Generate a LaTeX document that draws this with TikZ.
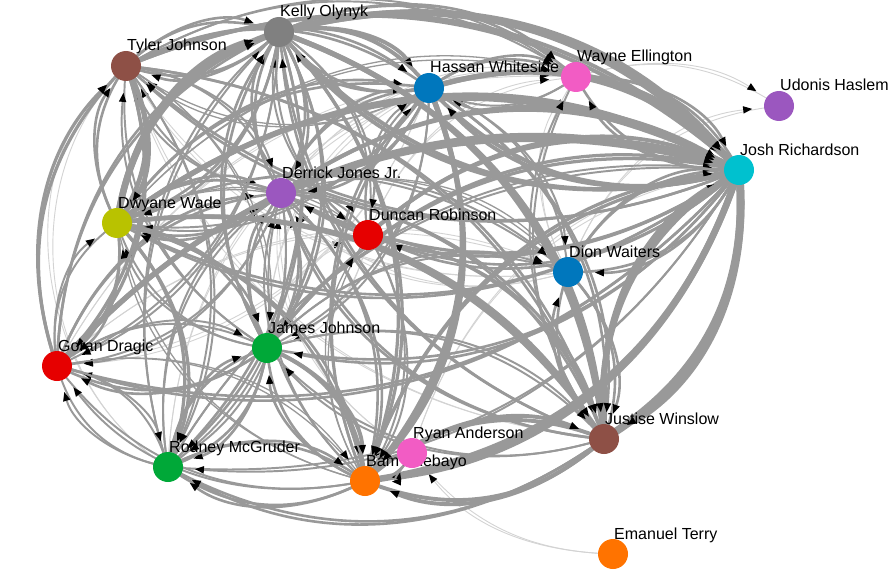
\documentclass[tikz,border=0pt]{standalone}
\usepackage{fontspec}
\setmainfont{Liberation Sans}
\usetikzlibrary{arrows.meta,backgrounds}
\definecolor{edgegray}{HTML}{999999}
\definecolor{lightedge}{HTML}{D3D3D3}
\definecolor{cgray}{HTML}{808080}
\definecolor{cbrown}{HTML}{8E5046}
\definecolor{cblue}{HTML}{0077BD}
\definecolor{cpink}{HTML}{F25CC4}
\definecolor{cpurple}{HTML}{9B57BF}
\definecolor{ccyan}{HTML}{00C1CF}
\definecolor{colive}{HTML}{B9C200}
\definecolor{cred}{HTML}{E60000}
\definecolor{cgreen}{HTML}{00A838}
\definecolor{corange}{HTML}{FF7300}
\begin{document}
\begin{tikzpicture}[x=1pt,y=1pt,
  pl/.style={circle,draw=none,minimum size=30pt,inner sep=0pt},
  lbl/.style={anchor=base west,inner sep=0pt,font=\fontsize{16}{16}\selectfont},
  ln/.style={draw=edgegray},
  lt/.style={draw=lightedge,line width=0.9pt},
  tip/.style={-{Triangle[length=9pt,width=7.5pt,line width=0pt,color=black]},shorten >=27pt}]
\useasboundingbox (0,0) rectangle (888,-575);
\def\bendang{32}
% nodes and labels
\node[pl,fill=cgray]   (KO) at (279,-32) {};
\node[lbl] (KOt) at (280,-17) {Kelly Olynyk};
\node[pl,fill=cbrown]  (TJ) at (126,-66) {};
\node[lbl] (TJt) at (127,-51) {Tyler Johnson};
\node[pl,fill=cblue]   (HW) at (429,-88) {};
\node[lbl] (HWt) at (430,-73) {Hassan Whiteside};
\node[pl,fill=cpink]   (WE) at (576,-77) {};
\node[lbl] (WEt) at (577,-62) {Wayne Ellington};
\node[pl,fill=cpurple] (UH) at (779,-106) {};
\node[lbl] (UHt) at (780,-91) {Udonis Haslem};
\node[pl,fill=ccyan]   (JR) at (739,-170) {};
\node[lbl] (JRt) at (740,-155) {Josh Richardson};
\node[pl,fill=cpurple] (DJ) at (281,-193) {};
\node[lbl] (DJt) at (282,-178) {Derrick Jones Jr.};
\node[pl,fill=colive]  (DW) at (117,-223) {};
\node[lbl] (DWt) at (118,-208) {Dwyane Wade};
\node[pl,fill=cred]    (DR) at (368,-235) {};
\node[lbl] (DRt) at (369,-220) {Duncan Robinson};
\node[pl,fill=cblue]   (DI) at (568,-272) {};
\node[lbl] (DIt) at (569,-257) {Dion Waiters};
\node[pl,fill=cgreen]  (JJ) at (267,-348) {};
\node[lbl] (JJt) at (268,-333) {James Johnson};
\node[pl,fill=cred]    (GD) at (57,-366) {};
\node[lbl] (GDt) at (58,-351) {Goran Dragic};
\node[pl,fill=cbrown]  (JW) at (604,-439) {};
\node[lbl] (JWt) at (605,-424) {Justise Winslow};
\node[pl,fill=cgreen]  (RM) at (168,-467) {};
\node[lbl] (RMt) at (169,-452) {Rodney McGruder};
\node[pl,fill=corange] (BA) at (365,-481) {};
\node[lbl] (BAt) at (366,-466) {Bam Adebayo};
\node[pl,fill=cpink]   (RA) at (412,-453) {};
\node[lbl] (RAt) at (413,-438) {Ryan Anderson};
\node[pl,fill=corange] (ET) at (613,-554) {};
\node[lbl] (ETt) at (614,-539) {Emanuel Terry};
% edges
\begin{pgfonlayer}{background}
\foreach \s/\t/\b in {RA/JR/32,RM/TJ/52,JJ/HW/32,DJ/WE/32,DI/WE/32,WE/UH/25,DI/UH/32,DI/DJ/32,JJ/DR/32,GD/DI/32,DR/JJ/32,HW/GD/32,ET/RA/25,GD/WE/32,RM/HW/32,DI/TJ/32,RA/DJ/32,DR/WE/32,JW/TJ/32}{
  \draw[lt] (\s.center) to[bend left=\b] (\t.center);
  \draw[lt,tip] (\s.center) to[bend left=\b] (\t.center);
}
\foreach \s/\t/\w in {
 KO/JR/5, TJ/JR/3, HW/JR/4, WE/JR/2, DJ/JR/3, DW/JR/4, DR/JR/3, DI/JR/2, JJ/JR/2.5, GD/JR/4, JW/JR/4.5, RM/JR/1.5, BA/JR/2.5,
 TJ/KO/2, HW/KO/2, DJ/KO/2, DW/KO/5, DR/KO/1.5, JJ/KO/2, GD/KO/2, JR/KO/3, JW/KO/2, RM/KO/1.5,
 KO/TJ/2, DW/TJ/2, DJ/TJ/1.5, GD/TJ/2.5, JJ/TJ/1.5, JR/TJ/2, HW/TJ/1,
 KO/HW/3, TJ/HW/2, WE/HW/1.5, DJ/HW/2, DW/HW/2, DR/HW/1.5, JR/HW/3, BA/HW/2,
 KO/WE/2, HW/WE/2, TJ/WE/1.5, DW/WE/1, JR/WE/2, JW/WE/1.5,
 KO/DJ/2, TJ/DJ/1.5, HW/DJ/2, DW/DJ/2, DR/DJ/1, JJ/DJ/2, GD/DJ/2, RM/DJ/1.5, JR/DJ/2.5, JW/DJ/2, BA/DJ/1.5,
 KO/DW/2, TJ/DW/3.5, DJ/DW/2, JR/DW/2, JJ/DW/1.5, GD/DW/1.5, HW/DW/1.5, BA/DW/1,
 KO/DR/1.5, DJ/DR/1.5, JR/DR/2, DW/DR/1, BA/DR/1,
 JR/DI/2, HW/DI/1.5, DJ/DI/1, DW/DI/1.5, JJ/DI/1.5, JW/DI/2,
 KO/JJ/2, TJ/JJ/1, DJ/JJ/2, DW/JJ/2, GD/JJ/1.5, RM/JJ/2, BA/JJ/2, JR/JJ/2, JW/JJ/1.5, HW/JJ/1.5,
 KO/GD/1.5, TJ/GD/2.5, DW/GD/2, DJ/GD/1.5, JJ/GD/2, RM/GD/1.5, JR/GD/2, BA/GD/1.5,
 KO/JW/4, TJ/JW/2, HW/JW/2, DJ/JW/2, DW/JW/3.5, DR/JW/2, DI/JW/2, JJ/JW/1.5, JR/JW/6, BA/JW/3,
 BA/RA/1,
 KO/RM/2, TJ/RM/1.5, DW/RM/2.5, DJ/RM/1.5, JJ/RM/2, GD/RM/1.5, BA/RM/2, JW/RM/2, JR/RM/1.5,
 KO/BA/2.5, HW/BA/4, DJ/BA/2, DW/BA/2, DR/BA/1.5, JJ/BA/3, RM/BA/2, JW/BA/3, JR/BA/5, GD/BA/1, RA/BA/1.5}{
  \draw[ln,line width=1.3*\w pt] (\s.center) to[bend left=\bendang] (\t.center);
  \draw[ln,line width=1.3*\w pt,tip] (\s.center) to[bend left=\bendang] (\t.center);
}
\end{pgfonlayer}
\end{tikzpicture}
\end{document}
